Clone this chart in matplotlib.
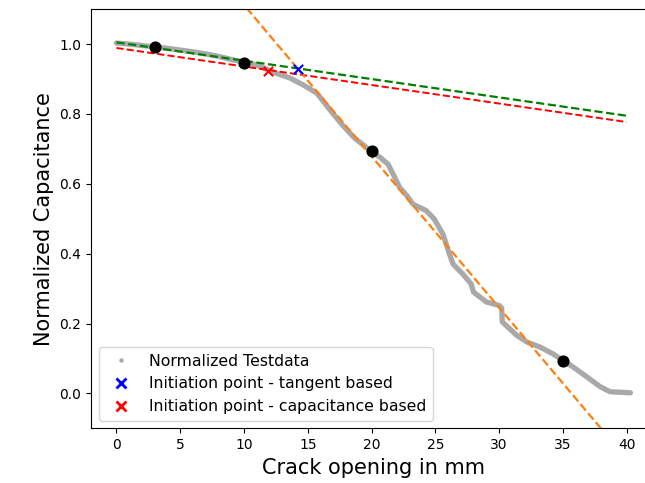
import numpy as np
import matplotlib
matplotlib.use("Agg")
import matplotlib.pyplot as plt
from matplotlib.lines import Line2D

crack_mm = [0.0, 1.0, 2.0, 3.0, 4.0, 5.0, 6.0, 7.0, 8.0, 9.0, 10.0, 11.0,
            11.8, 12.5, 13.6, 14.6, 15.7, 16.2, 17.0, 17.8, 18.7, 19.4,
            20.0, 20.7, 21.3, 21.8, 22.2, 22.8, 23.25, 24.3, 24.9, 25.6,
            26.1, 26.4, 27.2, 27.8, 28.0, 29.0, 30.0, 30.2, 30.25, 31.4,
            32.2, 33.2, 34.2, 35.0, 35.8, 36.9, 37.9, 38.7, 40.3]
norm_cap = [1.003, 1.0, 0.996, 0.992, 0.988, 0.983, 0.978, 0.972, 0.965,
            0.956, 0.948, 0.94, 0.928, 0.917, 0.903, 0.884, 0.86, 0.837,
            0.80, 0.765, 0.73, 0.71, 0.692, 0.675, 0.656, 0.62, 0.59, 0.565,
            0.542, 0.523, 0.5, 0.456, 0.40, 0.37, 0.34, 0.314, 0.29, 0.262,
            0.252, 0.245, 0.205, 0.166, 0.147, 0.133, 0.114, 0.095, 0.076,
            0.047, 0.02, 0.005, 0.002]

# selected points on the curve
sel_x = [3, 10, 20, 35]
sel_y = [0.993, 0.946, 0.694, 0.092]

# fitted lines, evaluated at the ends
line_x = [0, 40]
green_y = [1.005, 0.795]
red_y = [0.989, 0.777]
orange_y = [1.545, -0.187]

# initiation points
tangent_pt = (14.24, 0.929)
capac_pt = (11.9, 0.922)

fig = plt.figure(figsize=(6.45, 4.83), dpi=100)
ax = fig.add_axes([0.141, 0.113, 1.017 - 0.141, 0.981 - 0.113])

ax.plot(crack_mm, norm_cap, color="darkgray", lw=3.8,
        solid_joinstyle="round", solid_capstyle="round", zorder=1)
ax.scatter(sel_x, sel_y, color="black", s=60, zorder=4)
ax.plot(line_x, green_y, "--", color="green", lw=1.6, zorder=2)
ax.plot(line_x, red_y, "--", color="red", lw=1.4, zorder=2)
ax.plot(line_x, orange_y, "--", color="tab:orange", lw=1.6, zorder=2)
ax.scatter([tangent_pt[0]], [tangent_pt[1]], marker="x", color="blue", s=45, zorder=5)
ax.scatter([capac_pt[0]], [capac_pt[1]], marker="x", color="red", s=45, zorder=5)

ax.set_xlim(-2.0, 42.3)
ax.set_ylim(-0.1, 1.1)
ax.set_xticks([0, 5, 10, 15, 20, 25, 30, 35, 40])
ax.set_yticks([0.0, 0.2, 0.4, 0.6, 0.8, 1.0])
ax.tick_params(labelsize=10)
ax.set_xlabel("Crack opening in mm", fontsize=15)
ax.set_ylabel("Normalized Capacitance", fontsize=15)

handles = [
    Line2D([], [], ls="", marker="o", ms=2.2, color="darkgray"),
    Line2D([], [], ls="", marker="x", ms=7, mew=2, color="blue"),
    Line2D([], [], ls="", marker="x", ms=7, mew=2, color="red"),
]
labels = ["Normalized Testdata", "Initiation point - tangent based",
          "Initiation point - capacitance based"]
ax.legend(handles, labels, loc="lower left", fontsize=11.3)

plt.savefig("out.png", dpi=100)
